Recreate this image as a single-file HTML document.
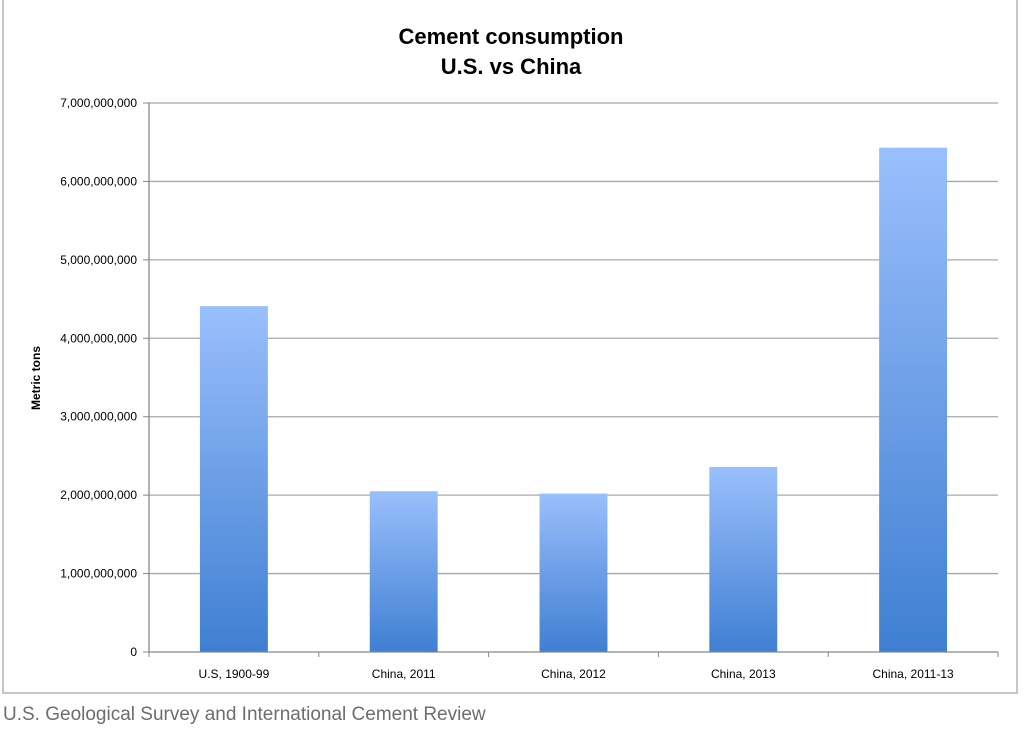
<!DOCTYPE html>
<html><head><meta charset="utf-8"><style>
body{margin:0;background:#fff;width:1024px;height:726px;overflow:hidden;font-family:"Liberation Sans",sans-serif}
svg text{font-family:"Liberation Sans",sans-serif}
</style></head><body>
<svg width="1024" height="726">
<defs><linearGradient id="g" x1="0" y1="0" x2="0" y2="1"><stop offset="0" stop-color="#9abffc"/><stop offset="1" stop-color="#3f7fd2"/></linearGradient></defs>
<rect x="3" y="-2" width="1014" height="695" fill="#fff" stroke="#a0a0a0" stroke-width="1.2"/>
<text x="511" y="44" text-anchor="middle" font-size="22" font-weight="bold">Cement consumption</text>
<text x="511" y="74" text-anchor="middle" font-size="22" font-weight="bold">U.S. vs China</text>
<text transform="translate(40,378) rotate(-90)" text-anchor="middle" font-size="12" font-weight="bold">Metric tons</text>
<g id="plot"></g>
<text x="3" y="720" font-size="19" fill="#6d6d6d">U.S. Geological Survey and International Cement Review</text>
</svg>
<script>
const categories=["U.S, 1900-99","China, 2011","China, 2012","China, 2013","China, 2011-13"];
const values=[4.41e9,2.05e9,2.02e9,2.36e9,6.43e9];
const ticks=[0,1e9,2e9,3e9,4e9,5e9,6e9,7e9];
const tickLabels=["0","1,000,000,000","2,000,000,000","3,000,000,000","4,000,000,000","5,000,000,000","6,000,000,000","7,000,000,000"];
const NS="http://www.w3.org/2000/svg";
const g=document.getElementById('plot');
const L=149,R=998,T=103,B=652,yMax=7e9;
const y=v=>B-(v/yMax)*(B-T);
const bw=(R-L)/categories.length;
const x=i=>L+bw*i;
function mk(t,a){const e=document.createElementNS(NS,t);for(const k in a)e.setAttribute(k,a[k]);g.appendChild(e);return e;}
ticks.forEach((t,i)=>{
 if(i>0){const l=mk('line',{x1:L,x2:R,y1:y(t),y2:y(t),stroke:'#a8a8a8','stroke-width':1.3});
 
 }
 const tk=mk('line',{x1:L-6,x2:L,y1:y(t),y2:y(t),stroke:'#888'});
 
 
 const tx=mk('text',{x:L-12,y:y(t)+4,'text-anchor':'end','font-size':12});
 tx.textContent=tickLabels[i];
 
 
});
categories.forEach((c,i)=>{
 const w=bw*0.4;
 const r=mk('rect',{x:x(i)+(bw-w)/2,y:y(values[i]),width:w,height:B-y(values[i]),fill:'url(#g)'});
 
 
 const t=mk('text',{x:x(i)+bw/2,y:B+26,'text-anchor':'middle','font-size':12});
 t.textContent=c;
 
 
});
for(let i=0;i<=categories.length;i++){
 const tk=mk('line',{x1:x(i),x2:x(i),y1:B,y2:B+5,stroke:'#888'});
 
 
}
const ax=mk('line',{x1:L,x2:R,y1:B,y2:B,stroke:'#888','stroke-width':1.3});


const ay=mk('line',{x1:L,x2:L,y1:T,y2:B,stroke:'#888','stroke-width':1.3});


</script>
</body></html>
